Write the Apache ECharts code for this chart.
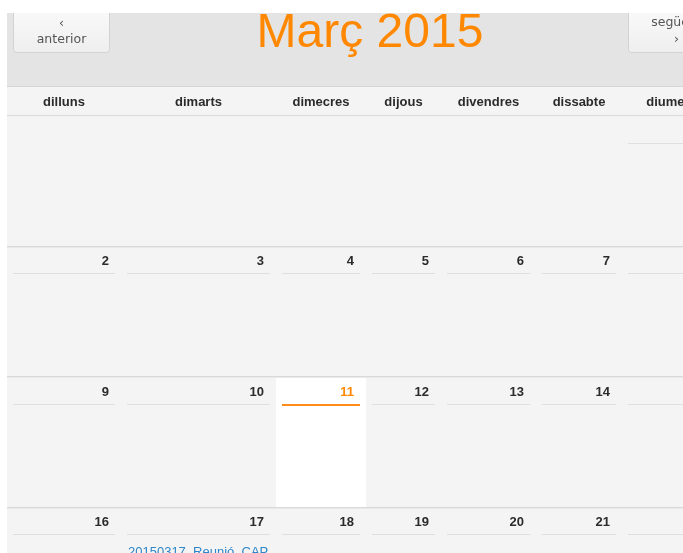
<!DOCTYPE html>
<html>
<head>
<meta charset="utf-8">
<script src="https://cdn.jsdelivr.net/npm/echarts@6/dist/echarts.min.js"></script>
<style>
  html, body { margin: 0; padding: 0; background: #ffffff; }
  #chart { width: 683px; height: 553px; }
</style>
</head>
<body>
<div id="chart"></div>
<script>
// ---------- data ----------
const monthTitle = 'Març 2015';
const dayNames = ['dilluns', 'dimarts', 'dimecres', 'dijous', 'divendres', 'dissabte', 'diumenge'];
const week1 = [null, null, null, null, null, null, 1];
const week2 = [2, 3, 4, 5, 6, 7, 8];
const week3 = [9, 10, 11, 12, 13, 14, 15];
const week4 = [16, 17, 18, 19, 20, 21, 22];
const weeks = [week1, week2, week3, week4];
const today = 11;
const eventDays = [17];
const eventTexts = ['20150317_Reunió_CAP'];
const navPrev = ['‹', 'anterior'];
const navNext = ['següent', '›'];

// ---------- layout (axis units == pixels) ----------
const W = 683, H = 553;
const colEdges = [7, 121, 276, 366, 441, 536, 622, 732];
const rowTops = [116, 246, 377, 507];
const rowH = 130;
const FONT = '"Liberation Sans", Arial, sans-serif';
const BTNFONT = '"DejaVu Sans", sans-serif';

// build series data from the arrays
const cellData = [];
weeks.forEach((wk, w) => wk.forEach((d, c) => { if (d !== null) cellData.push([c, w, d]); }));
const headerData = dayNames.map((n, c) => [c, n]);
const eventData = eventDays.map((d, i) => {
  let pos = null;
  weeks.forEach((wk, w) => wk.forEach((dd, c) => { if (dd === d) pos = [c, w]; }));
  return [pos[0], pos[1], eventTexts[i]];
});

function txt(x, y, text, font, fill, align, va) {
  return { type: 'text', style: { x, y, text, font, fill, align, textAlign: align, verticalAlign: va, textVerticalAlign: va } };
}

const chart = echarts.init(document.getElementById('chart'), null, { renderer: 'canvas' });

const btnFill = new echarts.graphic.LinearGradient(0, 0, 0, 1, [
  { offset: 0, color: '#fbfbfb' }, { offset: 1, color: '#eeeeee' }
]);

const option = {
  animation: false,
  backgroundColor: '#ffffff',
  grid: { left: 0, right: 0, top: 0, bottom: 0 },
  xAxis: { type: 'value', min: 0, max: W, show: false },
  yAxis: { type: 'value', min: 0, max: H, inverse: true, show: false },
  graphic: [
    // body background
    { type: 'rect', z: -10, shape: { x: 7, y: 13, width: W - 7, height: H - 13 }, style: { fill: '#f4f4f4' } },
    // title band
    { type: 'rect', z: -9, shape: { x: 7, y: 13, width: W - 7, height: 74 }, style: { fill: '#e4e4e4' } },
    { type: 'rect', z: -9, shape: { x: 7, y: 86, width: W - 7, height: 1 }, style: { fill: '#d6d6d6' } },
    { type: 'rect', z: -9, shape: { x: 7, y: 115, width: W - 7, height: 1 }, style: { fill: '#dadada' } },
    // row separators
    { type: 'rect', z: -9, shape: { x: 7, y: 246, width: W - 7, height: 1 }, style: { fill: '#d9d9d9' } },
    { type: 'rect', z: -9, shape: { x: 7, y: 247, width: W - 7, height: 1 }, style: { fill: '#e9e9e9' } },
    { type: 'rect', z: -9, shape: { x: 7, y: 376, width: W - 7, height: 1 }, style: { fill: '#d9d9d9' } },
    { type: 'rect', z: -9, shape: { x: 7, y: 377, width: W - 7, height: 1 }, style: { fill: '#e9e9e9' } },
    { type: 'rect', z: -9, shape: { x: 7, y: 507, width: W - 7, height: 1 }, style: { fill: '#d9d9d9' } },
    { type: 'rect', z: -9, shape: { x: 7, y: 508, width: W - 7, height: 1 }, style: { fill: '#e9e9e9' } },
    // buttons
    { type: 'rect', z: -8, shape: { x: 13.5, y: 4.5, width: 96, height: 48, r: 3 }, style: { fill: btnFill, stroke: '#d2d2d2', lineWidth: 1 } },
    { type: 'rect', z: -8, shape: { x: 628.5, y: 4.5, width: 96, height: 48, r: 3 }, style: { fill: btnFill, stroke: '#d2d2d2', lineWidth: 1 } },
    // white top band
    { type: 'rect', z: -7, shape: { x: 0, y: 0, width: W, height: 13 }, style: { fill: '#ffffff' } },
    // button labels
    Object.assign(txt(61.5, 23.5, navPrev[0], '12.5px ' + BTNFONT, '#555555', 'center', 'middle'), { z: -6 }),
    Object.assign(txt(61.5, 39.5, navPrev[1], '12.5px ' + BTNFONT, '#555555', 'center', 'middle'), { z: -6 }),
    Object.assign(txt(676.5, 22.5, navNext[0], '12.5px ' + BTNFONT, '#555555', 'center', 'middle'), { z: -6 }),
    Object.assign(txt(676.5, 39.5, navNext[1], '12.5px ' + BTNFONT, '#555555', 'center', 'middle'), { z: -6 }),
    // title
    Object.assign(txt(370, 33.5, monthTitle, '48px ' + FONT, '#ff8800', 'center', 'middle'), { z: -6 })
  ],
  series: [
    {
      type: 'custom',
      name: 'header',
      silent: true,
      data: headerData,
      encode: { x: 0 },
      renderItem: function (params, api) {
        const c = headerData[params.dataIndex][0];
        const p0 = api.coord([colEdges[c], 87]);
        const p1 = api.coord([colEdges[c + 1], 115]);
        return txt((p0[0] + p1[0]) / 2, (p0[1] + p1[1]) / 2 + 1.5, headerData[params.dataIndex][1], 'bold 13px ' + FONT, '#2b2b2b', 'center', 'middle');
      }
    },
    {
      type: 'custom',
      name: 'days',
      silent: true,
      data: cellData,
      encode: { x: 0, y: 1 },
      renderItem: function (params, api) {
        const c = api.value(0), w = api.value(1), d = api.value(2);
        const p0 = api.coord([colEdges[c], rowTops[w]]);
        const p1 = api.coord([colEdges[c + 1], rowTops[w] + rowH]);
        const isToday = d === today;
        const children = [];
        if (isToday) {
          children.push({ type: 'rect', shape: { x: p0[0], y: p0[1] + 1, width: p1[0] - p0[0], height: p1[1] - p0[1] - 1 }, style: { fill: '#ffffff' } });
        }
        children.push({
          type: 'rect',
          shape: { x: p0[0] + 6, y: p0[1] + 27, width: p1[0] - p0[0] - 12, height: isToday ? 2 : 1 },
          style: { fill: isToday ? '#ff8c1a' : '#dfdfdf' }
        });
        children.push(txt(p1[0] - 12, p0[1] + 15.5, String(d), 'bold 13px ' + FONT, isToday ? '#ff8800' : '#2b2b2b', 'right', 'middle'));
        return { type: 'group', children };
      }
    },
    {
      type: 'custom',
      name: 'events',
      silent: true,
      data: eventData,
      encode: { x: 0, y: 1 },
      renderItem: function (params, api) {
        const e = eventData[params.dataIndex];
        const p0 = api.coord([colEdges[e[0]], rowTops[e[1]]]);
        return txt(p0[0] + 7, p0[1] + 45, e[2], '13px ' + FONT, '#2d86c9', 'left', 'middle');
      }
    }
  ]
};
chart.setOption(option);
</script>
</body>
</html>
